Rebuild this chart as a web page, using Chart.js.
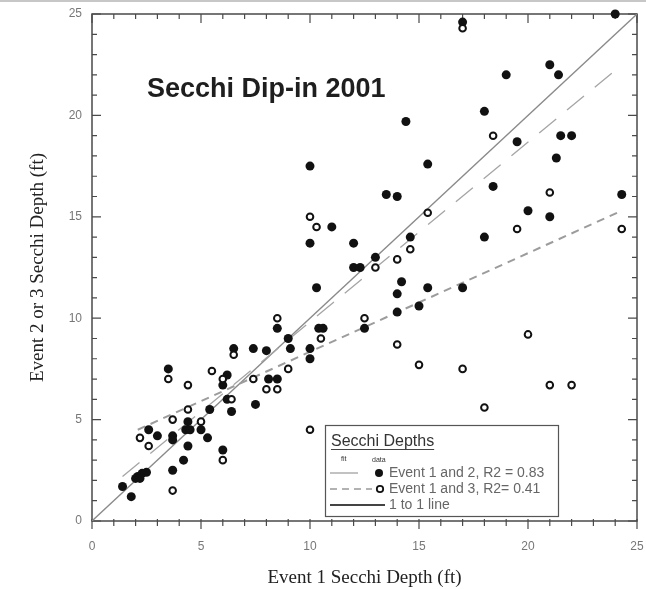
<!DOCTYPE html>
<html><head><meta charset="utf-8">
<script src="https://cdn.jsdelivr.net/npm/chart.js@4"></script>
<style>html,body{margin:0;padding:0;background:#fff;} canvas{display:block;}</style>
</head><body>
<canvas id="c" width="646" height="589"></canvas>
<script>
// Event 1 vs Event 2 (filled dots)
const e12X = [24, 17, 21, 21.4, 19, 18, 19.5, 21.5, 22, 21.3, 18.4, 24.3, 20, 21, 18, 17,
  14.4, 10, 15.4, 13.5, 14, 11, 10, 12, 14.6, 13, 12, 12.3, 14.2, 14, 15.4, 10.3, 14, 15,
  10.4, 10.6, 12.5, 9, 9.1, 10, 10, 8.5, 6.5, 7.4, 8, 3.5, 6.2, 6, 8.1, 8.5, 7.5, 6.2, 6.4,
  5.4, 4.4, 4.3, 4.5, 5, 2.6, 3, 3.7, 3.7, 4.4, 5.3, 6, 4.2, 3.7, 2.5, 2.3, 2.1, 2, 2.2, 1.4, 1.8];
const e12Y = [25, 24.6, 22.5, 22, 22, 20.2, 18.7, 19, 19, 17.9, 16.5, 16.1, 15.3, 15, 14, 11.5,
  19.7, 17.5, 17.6, 16.1, 16, 14.5, 13.7, 13.7, 14, 13, 12.5, 12.5, 11.8, 11.2, 11.5, 11.5, 10.3, 10.6,
  9.5, 9.5, 9.5, 9, 8.5, 8.5, 8, 9.5, 8.5, 8.5, 8.4, 7.5, 7.2, 6.7, 7, 7, 5.75, 6, 5.4,
  5.5, 4.9, 4.5, 4.5, 4.5, 4.5, 4.2, 4.2, 4.0, 3.7, 4.1, 3.5, 3, 2.5, 2.4, 2.35, 2.2, 2.1, 2.1, 1.7, 1.2];
// Event 1 vs Event 3 (open circles)
const e13X = [17, 18.4, 21, 19.5, 24.3, 20, 17, 21, 22, 18, 10, 10.3, 15.4, 14.6, 14, 13, 12.5,
  10.5, 14, 15, 9, 10, 8.5, 6.5, 3.5, 5.5, 4.4, 6, 7.4, 8, 8.5, 6.4, 4.4, 3.7, 5, 2.2, 2.6, 6, 3.7];
const e13Y = [24.3, 19, 16.2, 14.4, 14.4, 9.2, 7.5, 6.7, 6.7, 5.6, 15, 14.5, 15.2, 13.4, 12.9, 12.5, 10,
  9, 8.7, 7.7, 7.5, 4.5, 10, 8.2, 7, 7.4, 6.7, 7, 7, 6.5, 6.5, 6, 5.5, 5, 4.9, 4.1, 3.7, 3, 1.5];
// fitted lines
const fit12X = [1.4, 24.2], fit12Y = [2.2, 22.4];
const fit13X = [2.1, 24.3], fit13Y = [4.5, 15.3];
const oneX = [0, 25], oneY = [0, 25];
const axisMin = 0, axisMax = 25, majorStep = 5, minorStep = 1;
const chartTitle = 'Secchi Dip-in 2001';
const xTitle = 'Event 1 Secchi Depth (ft)';
const yTitle = 'Event 2 or 3 Secchi Depth (ft)';
const legendTitle = 'Secchi Depths';
const legendLabels = ['Event 1 and 2, R2 = 0.83', 'Event 1 and 3, R2= 0.41', '1 to 1 line'];

const toPts = (xs, ys) => xs.map((x, i) => ({x, y: ys[i]}));
const SANS = '"Liberation Sans", Arial, sans-serif';
const SERIF = '"Liberation Serif", "Times New Roman", serif';

const decor = {
  id: 'decor',
  beforeDatasetsDraw(chart) {
    const {ctx, chartArea: a, scales: {x, y}} = chart;
    ctx.save();
    ctx.strokeStyle = '#4a4a4a';
    ctx.lineWidth = 1.5;
    ctx.strokeRect(a.left, a.top, a.right - a.left, a.bottom - a.top);
    ctx.lineWidth = 1.2;
    ctx.beginPath();
    for (let v = axisMin; v <= axisMax; v += minorStep) {
      const major = v % majorStep === 0;
      const px = x.getPixelForValue(v), py = y.getPixelForValue(v);
      const li = major ? 9 : 5;
      ctx.moveTo(a.left, py); ctx.lineTo(a.left + li, py);
      ctx.moveTo(a.right, py); ctx.lineTo(a.right - li, py);
      ctx.moveTo(px, a.top); ctx.lineTo(px, a.top + li);
      ctx.moveTo(px, a.bottom - 2); ctx.lineTo(px, a.bottom + (major ? 8 : 5));
    }
    ctx.stroke();
    ctx.restore();
  },
  afterDraw(chart) {
    const ctx = chart.ctx;
    ctx.save();
    ctx.strokeStyle = '#b5b5b5'; ctx.lineWidth = 1.5;
    ctx.beginPath(); ctx.moveTo(0, 1); ctx.lineTo(646, 1); ctx.stroke();
    ctx.fillStyle = '#1e1e1e';
    ctx.font = 'bold 27px ' + SANS;
    ctx.textBaseline = 'alphabetic';
    ctx.fillText(chartTitle, 147, 97);
    const bx = 325, by = 425, bw = 233, bh = 91;
    ctx.fillStyle = '#fff';
    ctx.fillRect(bx, by, bw, bh);
    ctx.strokeStyle = '#555'; ctx.lineWidth = 1.2;
    ctx.strokeRect(bx + 0.5, by + 0.5, bw, bh);
    ctx.fillStyle = '#333';
    ctx.font = '16px ' + SANS;
    ctx.fillText(legendTitle, 331, 446);
    const tw = ctx.measureText(legendTitle).width;
    ctx.strokeStyle = '#444'; ctx.lineWidth = 1;
    ctx.beginPath(); ctx.moveTo(331, 449.5); ctx.lineTo(331 + tw, 449.5); ctx.stroke();
    ctx.font = '7px ' + SANS;
    ctx.fillText('fit', 341, 461);
    ctx.fillText('data', 372, 462);
    ctx.strokeStyle = '#999'; ctx.lineWidth = 1.2;
    ctx.beginPath(); ctx.moveTo(330, 473); ctx.lineTo(358, 473); ctx.stroke();
    ctx.fillStyle = '#111';
    ctx.beginPath(); ctx.arc(379, 473, 4, 0, Math.PI * 2); ctx.fill();
    ctx.strokeStyle = '#999'; ctx.lineWidth = 1.5; ctx.setLineDash([7, 5]);
    ctx.beginPath(); ctx.moveTo(330, 489); ctx.lineTo(372, 489); ctx.stroke();
    ctx.setLineDash([]);
    ctx.strokeStyle = '#111'; ctx.lineWidth = 1.8;
    ctx.beginPath(); ctx.arc(380, 489, 3.2, 0, Math.PI * 2); ctx.stroke();
    ctx.strokeStyle = '#444'; ctx.lineWidth = 2;
    ctx.beginPath(); ctx.moveTo(330, 505); ctx.lineTo(385, 505); ctx.stroke();
    ctx.fillStyle = '#666';
    ctx.font = '14px ' + SANS;
    ctx.textBaseline = 'middle';
    ctx.fillText(legendLabels[0], 389, 473);
    ctx.fillText(legendLabels[1], 389, 489);
    ctx.fillText(legendLabels[2], 389, 505);
    ctx.restore();
  }
};

new Chart(document.getElementById('c'), {
  type: 'scatter',
  data: {
    datasets: [
      {label: 'Event 1 and 2', data: toPts(e12X, e12Y), pointRadius: 4.5, pointBackgroundColor: '#111',
       pointBorderColor: '#111', pointBorderWidth: 0, clip: false, order: 1},
      {label: 'Event 1 and 3', data: toPts(e13X, e13Y), pointRadius: 3.3, pointBackgroundColor: '#fff',
       pointBorderColor: '#111', pointBorderWidth: 2, clip: false, order: 0},
      {label: '1 to 1 line', data: toPts(oneX, oneY), showLine: true, pointRadius: 0,
       borderColor: '#8a8a8a', borderWidth: 1.3, order: 4},
      {label: 'fit 1-2', data: toPts(fit12X, fit12Y), showLine: true, pointRadius: 0,
       borderColor: '#a5a5a5', borderWidth: 1.3, borderDash: [22, 14], order: 3},
      {label: 'fit 1-3', data: toPts(fit13X, fit13Y), showLine: true, pointRadius: 0,
       borderColor: '#9c9c9c', borderWidth: 2, borderDash: [8, 6], order: 2}
    ]
  },
  options: {
    responsive: false, animation: false, devicePixelRatio: 1,
    layout: {padding: {top: 14, right: 9, left: 0, bottom: 0}},
    plugins: {legend: {display: false}, tooltip: {enabled: false}},
    scales: {
      x: {
        type: 'linear', min: axisMin, max: axisMax,
        grid: {display: false, drawTicks: false}, border: {display: false},
        ticks: {stepSize: majorStep, color: '#777', font: {family: SANS, size: 12}, padding: 18, maxRotation: 0},
        title: {display: true, text: xTitle, color: '#222', font: {family: SERIF, size: 19, lineHeight: 1.2},
                padding: {top: 0, bottom: 0}},
        afterFit(s) { s.height = 68; s.paddingLeft = 0; s.paddingRight = 0; }
      },
      y: {
        type: 'linear', min: axisMin, max: axisMax,
        grid: {display: false, drawTicks: false}, border: {display: false},
        ticks: {stepSize: majorStep, color: '#777', font: {family: SANS, size: 12}, padding: 10},
        title: {display: true, text: yTitle, color: '#222', font: {family: SERIF, size: 19, lineHeight: 1.2},
                padding: {top: 27, bottom: 0}},
        afterFit(s) { s.width = 92; s.paddingTop = 0; s.paddingBottom = 0; }
      }
    }
  },
  plugins: [decor]
});
</script>
</body></html>
